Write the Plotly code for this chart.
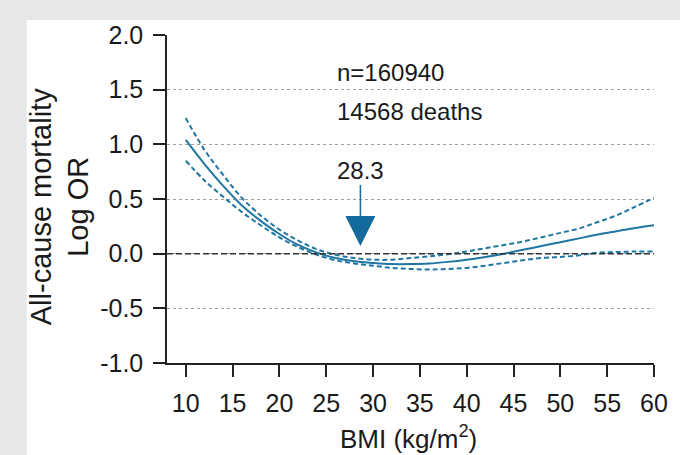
import plotly.graph_objects as go

# BMI grid (kg/m^2)
bmi = [10, 12, 14, 16, 18, 20, 22, 24, 26, 28, 30, 32, 34, 36, 38, 40,
       42, 44, 46, 48, 50, 52, 54, 56, 58, 60]
# Log OR estimate
log_or = [1.04, 0.82, 0.62, 0.44, 0.30, 0.18, 0.08, 0.01, -0.04, -0.07, -0.085,
          -0.095, -0.095, -0.09, -0.075, -0.055, -0.03, 0.0, 0.035, 0.07, 0.105,
          0.14, 0.175, 0.205, 0.235, 0.26]
# Upper 95% CI
upper = [1.24, 0.95, 0.72, 0.51, 0.35, 0.22, 0.12, 0.04, -0.01, -0.04, -0.055,
         -0.055, -0.04, -0.025, -0.005, 0.02, 0.05, 0.08, 0.11, 0.15, 0.19,
         0.23, 0.29, 0.35, 0.43, 0.51]
# Lower 95% CI
lower = [0.85, 0.67, 0.52, 0.38, 0.26, 0.15, 0.06, -0.01, -0.06, -0.09, -0.11,
         -0.13, -0.14, -0.145, -0.14, -0.13, -0.11, -0.085, -0.06, -0.04, -0.03,
         -0.015, 0.01, 0.015, 0.02, 0.02]

x_ticks = [10, 15, 20, 25, 30, 35, 40, 45, 50, 55, 60]
y_ticks = [-1.0, -0.5, 0.0, 0.5, 1.0, 1.5, 2.0]
y_ticktext = ["-1.0", "-0.5", "0.0", "0.5", "1.0", "1.5", "2.0"]

nadir_bmi = 28.3
n_text = "n=160940"
deaths_text = "14568 deaths"

CURVE = "#1f76a3"
FONT = "Liberation Sans, Arial, sans-serif"
TXT = "#1a1a1a"
GRAY = "#e6e7e8"

fig = go.Figure()
fig.add_trace(go.Scatter(x=bmi, y=upper, mode="lines",
                         line=dict(color=CURVE, width=2, dash="5px,3px", shape="spline"),
                         showlegend=False))
fig.add_trace(go.Scatter(x=bmi, y=lower, mode="lines",
                         line=dict(color=CURVE, width=2, dash="5px,3px", shape="spline"),
                         showlegend=False))
fig.add_trace(go.Scatter(x=bmi, y=log_or, mode="lines",
                         line=dict(color=CURVE, width=2, shape="spline"),
                         showlegend=False))

# gray page border
fig.add_shape(type="rect", xref="paper", yref="paper", x0=-1, x1=2, y0=1.0457, y1=2,
              fillcolor=GRAY, line=dict(width=0), layer="below")
fig.add_shape(type="rect", xref="paper", yref="paper", x0=-1, x1=-0.288, y0=-1, y1=2,
              fillcolor=GRAY, line=dict(width=0), layer="below")

# zero reference line
fig.add_shape(type="line", xref="paper", yref="y", x0=0, x1=1, y0=0, y1=0,
              line=dict(color="#333333", width=1.5, dash="6px,3px"), layer="above")

fig.add_annotation(x=0.345, y=0.885, xref="paper", yref="paper", text=n_text,
                   showarrow=False, xanchor="left", yanchor="middle",
                   font=dict(family=FONT, size=24, color=TXT))
fig.add_annotation(x=0.345, y=0.768, xref="paper", yref="paper", text=deaths_text,
                   showarrow=False, xanchor="left", yanchor="middle",
                   font=dict(family=FONT, size=24, color=TXT))

fig.add_annotation(x=nadir_bmi + 0.35, y=0.07, xref="x", yref="y",
                   text=f"{nadir_bmi}", showarrow=True, ax=0, ay=-76,
                   arrowhead=2, arrowsize=4, arrowwidth=1.5, arrowcolor="#136a9c",
                   font=dict(family=FONT, size=24, color=TXT))

fig.add_annotation(x=-0.221, y=0.476, xref="paper", yref="paper",
                   text="All-cause mortality<br>Log OR", textangle=-90,
                   showarrow=False, xanchor="center", yanchor="middle",
                   font=dict(family=FONT, size=29, color=TXT))
fig.add_annotation(x=0.495, y=-0.228, xref="paper", yref="paper",
                   text="BMI (kg/m<sup>2</sup>)",
                   showarrow=False, xanchor="center", yanchor="middle",
                   font=dict(family=FONT, size=26, color=TXT))

fig.update_layout(
    width=680, height=455,
    margin=dict(l=167, r=20, t=35, b=92),
    paper_bgcolor="white", plot_bgcolor="white",
    font=dict(family=FONT, color=TXT),
    xaxis=dict(range=[8, 60], tickvals=x_ticks, ticks="outside", ticklen=12,
               tickwidth=1.5, tickcolor="#222", showline=True, linewidth=1.5,
               linecolor="#222", showgrid=False, zeroline=False,
               tickfont=dict(size=25, color=TXT, family=FONT), ticklabelstandoff=5),
    yaxis=dict(range=[-1, 2], tickvals=y_ticks, ticktext=y_ticktext, ticks="outside",
               ticklen=12, tickwidth=1.5, tickcolor="#222", showline=True,
               linewidth=1.5, linecolor="#222", showgrid=True, gridcolor="#a0a0a0",
               gridwidth=1, griddash="dot", zeroline=False,
               tickfont=dict(size=25, color=TXT, family=FONT), ticklabelstandoff=5),
)

fig.write_html(
    "out.html",
    config={"displayModeBar": False},
    post_script="document.body.style.margin='0';document.body.style.overflow='hidden';",
)
